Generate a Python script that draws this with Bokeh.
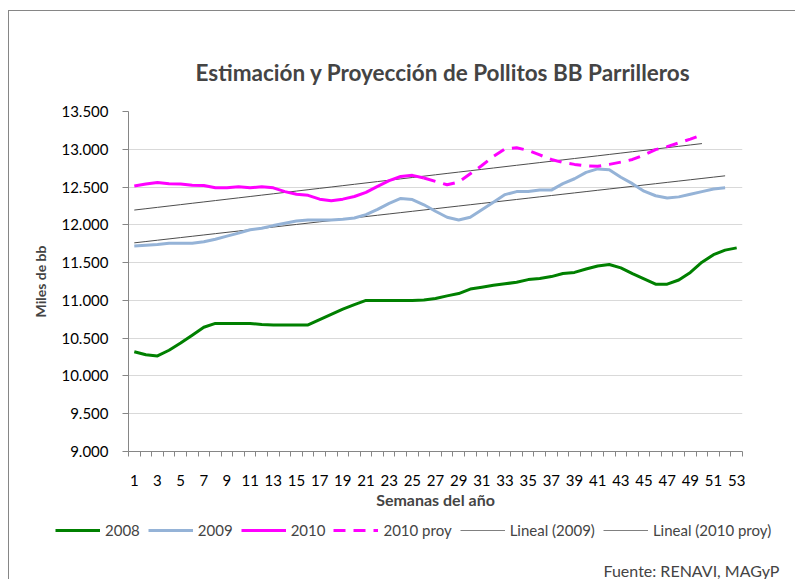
import numpy as np
from bokeh.plotting import figure
from bokeh.models import FixedTicker, Legend, LegendItem, Title, Range1d
from bokeh.embed import file_html
from bokeh.resources import INLINE

# ---------------- data ----------------
weeks_2008 = list(range(1, 54))
y_2008 = [10320, 10280, 10265, 10340, 10435, 10540, 10645, 10695, 10695, 10695,
          10695, 10680, 10675, 10675, 10675, 10675, 10745, 10815, 10885, 10945,
          11000, 11000, 11000, 11000, 11000, 11005, 11025, 11060, 11090, 11150,
          11175, 11200, 11220, 11240, 11275, 11290, 11315, 11355, 11370, 11415,
          11455, 11475, 11430, 11355, 11285, 11215, 11215, 11270, 11370, 11505,
          11605, 11665, 11695]

weeks_2009 = list(range(1, 53))
y_2009 = [11720, 11730, 11740, 11755, 11755, 11755, 11775, 11810, 11850, 11890,
          11935, 11955, 11990, 12020, 12050, 12065, 12065, 12065, 12075, 12090,
          12135, 12205, 12285, 12350, 12335, 12265, 12180, 12100, 12065, 12100,
          12200, 12300, 12400, 12440, 12440, 12460, 12460, 12545, 12610, 12695,
          12740, 12730, 12630, 12545, 12445, 12385, 12355, 12370, 12405, 12440,
          12475, 12490]

weeks_2010 = list(range(1, 27))
y_2010 = [12515, 12540, 12560, 12545, 12540, 12525, 12520, 12490, 12490, 12505,
          12490, 12505, 12490, 12440, 12405, 12390, 12340, 12320, 12340, 12375,
          12430, 12510, 12585, 12640, 12655, 12620]

weeks_2010_proy = list(range(26, 51))
y_2010_proy = [12620, 12575, 12530, 12565, 12675, 12785, 12905, 13005, 13020, 12985,
               12925, 12865, 12825, 12800, 12780, 12775, 12800, 12830, 12865, 12925,
               12995, 13035, 13085, 13135, 13190]

y_ticks = [9000, 9500, 10000, 10500, 11000, 11500, 12000, 12500, 13000, 13500]
y_tick_labels = ["9.000", "9.500", "10.000", "10.500", "11.000", "11.500",
                 "12.000", "12.500", "13.000", "13.500"]
x_ticks = list(range(1, 54, 2))
x_tick_labels = [str(w) for w in x_ticks]

# linear trendlines (least squares fits, drawn over the weeks 1..last)
w09 = np.array(weeks_2009, dtype=float)
c09 = np.polyfit(w09, np.array(y_2009, dtype=float), 1)
trend_09_x = weeks_2009
trend_09_y = list(np.polyval(c09, w09))

c10 = np.polyfit(np.array(weeks_2010_proy, dtype=float),
                 np.array(y_2010_proy, dtype=float), 1)
trend_10_x = list(range(1, weeks_2010_proy[-1] + 1))
trend_10_y = list(np.polyval(c10, np.array(trend_10_x, dtype=float)))

FONT = "Lato"
GRAY = "#868686"
C08, C09, C10, CTR = "#008000", "#95B3D7", "#FF00FF", "#4d4d4d"

p = figure(width=787, height=504, output_backend="svg", toolbar_location=None,
           x_range=Range1d(0.5, 53.5), y_range=Range1d(9000, 13500),
           min_border_left=119, min_border_right=54, min_border_top=100,
           min_border_bottom=64)
p.styles = {"margin-left": "8px", "margin-top": "10px",
            "border-left": "1px solid #868686", "border-top": "1px solid #868686"}
p.outline_line_color = None
p.background_fill_color = "white"
p.border_fill_color = "white"

# title
p.title.text = "Estimación y Proyección de Pollitos BB Parrilleros"
p.title.text_font = FONT
p.title.text_font_style = "bold"
p.title.text_font_size = "22.5px"
p.title.align = "left"
p.title.offset = 67
p.title.standoff = 52

# y axis
p.yaxis.ticker = FixedTicker(ticks=y_ticks)
p.yaxis.major_label_overrides = dict(zip(y_ticks, y_tick_labels))
p.yaxis.axis_label = "Miles de bb"
p.yaxis.axis_label_text_font = FONT
p.yaxis.axis_label_text_font_style = "bold"
p.yaxis.axis_label_text_font_size = "14px"
p.yaxis.axis_label_standoff = 9
p.yaxis.major_label_text_font = FONT
p.yaxis.major_label_text_font_size = "15px"
p.yaxis.major_label_text_color = "black"
p.yaxis.major_label_standoff = 14
p.yaxis.axis_line_color = GRAY
p.yaxis.major_tick_line_color = GRAY
p.yaxis.major_tick_out = 6
p.yaxis.major_tick_in = 0
p.yaxis.minor_tick_line_color = None

p.ygrid.ticker = FixedTicker(ticks=y_ticks)
p.ygrid.grid_line_color = "#d9d9d9"
p.ygrid.grid_line_width = 1
p.xgrid.grid_line_color = None

# x axis
p.xaxis.ticker = FixedTicker(ticks=x_ticks,
                             minor_ticks=[w - 0.5 for w in range(1, 55)])
p.xaxis.major_label_overrides = dict(zip(x_ticks, x_tick_labels))
p.xaxis.axis_label = "Semanas del año"
p.xaxis.axis_label_text_font = FONT
p.xaxis.axis_label_text_font_style = "bold"
p.xaxis.axis_label_text_font_size = "16px"
p.xaxis.axis_label_standoff = 1
p.xaxis.major_label_text_font = FONT
p.xaxis.major_label_text_font_size = "15px"
p.xaxis.major_label_text_color = "black"
p.xaxis.major_label_standoff = 18
p.xaxis.axis_line_color = GRAY
p.xaxis.major_tick_line_color = None
p.xaxis.major_tick_out = 0
p.xaxis.major_tick_in = 0
p.xaxis.minor_tick_line_color = GRAY
p.xaxis.minor_tick_out = 5
p.xaxis.minor_tick_in = 0

# series
p.line(trend_10_x, trend_10_y, line_color=CTR, line_width=1)
p.line(trend_09_x, trend_09_y, line_color=CTR, line_width=1)
p.line(weeks_2008, y_2008, line_color=C08, line_width=3, line_join="round")
p.line(weeks_2009, y_2009, line_color=C09, line_width=3, line_join="round")
p.line(weeks_2010_proy, y_2010_proy, line_color=C10, line_width=3,
       line_dash="12 8", line_join="round")
p.line(weeks_2010, y_2010, line_color=C10, line_width=3, line_join="round")

# ---------------- legend strip + source (separate root, no frame alignment) ----
leg = figure(width=787, height=65, output_backend="svg", toolbar_location=None,
             x_axis_type=None, y_axis_type=None, min_border=0,
             x_range=Range1d(0, 1), y_range=Range1d(0, 1))
leg.styles = {"margin-left": "8px", "border-left": "1px solid #868686"}
leg.outline_line_color = None
leg.background_fill_color = "white"
leg.border_fill_color = "white"
leg.xgrid.visible = False
leg.ygrid.visible = False

hidden = np.array([np.nan])  # legend-only renderers: nothing is drawn in the strip
l08 = leg.line(x=hidden, y=hidden, line_color=C08, line_width=3)
l09 = leg.line(x=hidden, y=hidden, line_color=C09, line_width=3)
l10 = leg.line(x=hidden, y=hidden, line_color=C10, line_width=3)
l10p = leg.line(x=hidden, y=hidden, line_color=C10, line_width=3, line_dash="12 8")
ltr09 = leg.line(x=hidden, y=hidden, line_color="#808080", line_width=1)
ltr10 = leg.line(x=hidden, y=hidden, line_color="#808080", line_width=1)

legend = Legend(items=[
    LegendItem(label="2008", renderers=[l08]),
    LegendItem(label="2009", renderers=[l09]),
    LegendItem(label="2010", renderers=[l10]),
    LegendItem(label="2010 proy", renderers=[l10p]),
    LegendItem(label="Lineal (2009)", renderers=[ltr09]),
    LegendItem(label="Lineal (2010 proy)", renderers=[ltr10]),
], orientation="horizontal", location=(46, 19))
legend.label_text_font = FONT
legend.label_text_font_size = "15px"
legend.glyph_width = 45
legend.glyph_height = 18
legend.label_standoff = 5
legend.spacing = 8
legend.padding = 2
legend.margin = 0
legend.border_line_color = None
legend.background_fill_alpha = 0
leg.add_layout(legend, "center")

src = Title(text="Fuente:  RENAVI,  MAGyP", align="right", offset=9,
            text_font=FONT, text_font_size="16px", text_font_style="normal",
            standoff=0)
leg.add_layout(src, "below")

open("out.html", "w").write(file_html([p, leg], INLINE))
